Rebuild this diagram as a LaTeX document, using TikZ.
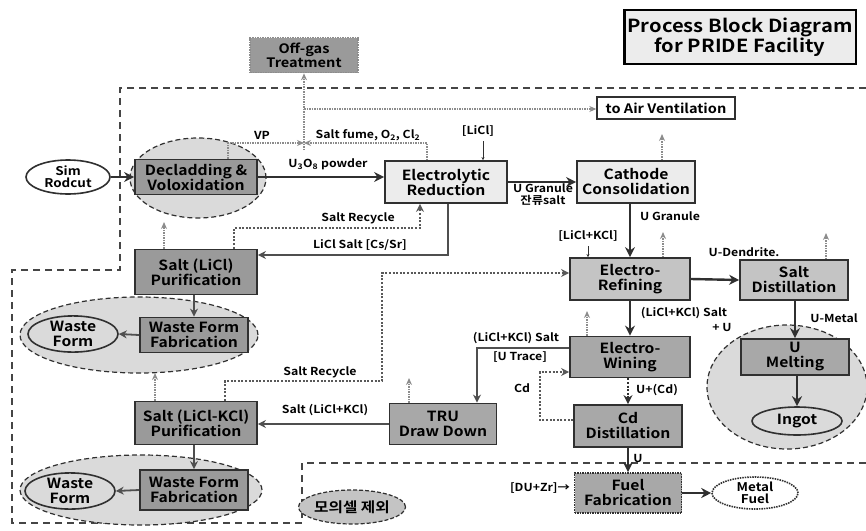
\documentclass[tikz,border=0pt]{standalone}
\usepackage{fontspec}
\setmainfont{Noto Sans CJK KR}[BoldFont={* Bold}, FakeStretch=1.12]
\usetikzlibrary{arrows.meta,shapes.geometric}
\definecolor{dk}{HTML}{9A9A9A}
\definecolor{dkb}{HTML}{A8A8A8}
\definecolor{md}{HTML}{C4C4C4}
\definecolor{lt}{HTML}{ECECEC}
\definecolor{el}{HTML}{DADADA}
\definecolor{ln}{HTML}{303030}
\definecolor{gy}{HTML}{8C8C8C}
\newcommand\bxf{\fontsize{14}{15}\selectfont\bfseries}
\newcommand\lbf{\fontsize{11}{12}\selectfont\bfseries}
\tikzset{
  blk/.style={draw=ln, line width=1.8pt, align=center, font=\bxf, inner sep=1pt},
  grp/.style={ellipse, draw=ln, line width=1.2pt, dash pattern=on 5pt off 3pt, fill=el, inner sep=0pt},
  oval/.style={ellipse, draw=ln, line width=1.6pt, fill=white, align=center, font=\fontsize{12}{12}\selectfont\bfseries, inner sep=0pt},
  lab/.style={font=\lbf, inner sep=1pt, align=center},
  bigarr/.style={draw=ln, line width=2.4pt, -{Stealth[length=10pt,width=10pt]}},
  medarr/.style={draw=ln!85, line width=1.8pt, -{Stealth[length=8pt,width=8pt]}},
  grayarr/.style={draw=gy, line width=1.6pt, dash pattern=on 1.5pt off 1pt, -{Stealth[length=7pt,width=6pt,sep=0pt]}},
  recarr/.style={draw=ln!80, line width=2pt, dash pattern=on 2pt off 1.6pt, -{Stealth[length=8pt,width=8pt,fill=gy]}},
  tinyarr/.style={draw=ln, line width=0.8pt, -{Stealth[length=3pt,width=3pt]}},
  bound/.style={draw=ln!90, line width=1.5pt, dash pattern=on 7pt off 5pt}
}
\begin{document}
\begin{tikzpicture}[x=1pt,y=-1pt]
\useasboundingbox (0,0) rectangle (866,530);
% boundary
\draw[bound] (866,88) -- (120,88) -- (120,270) -- (12,270) -- (12,523) -- (302,523) -- (302,463) -- (866,463);
% group ellipses
\node[grp, minimum width=136pt, minimum height=80pt] (g1) at (198,178) {};
\node[grp, minimum width=238pt, minimum height=76pt] (g2) at (139,335) {};
\node[grp, minimum width=160pt, minimum height=124pt] (g3) at (787,387) {};
\node[grp, minimum width=242pt, minimum height=70pt] (g4) at (141,490) {};
% title
\node[draw=black, line width=2.6pt, fill=lt, align=center, font=\fontsize{18}{20}\selectfont\bfseries, minimum width=213pt, minimum height=54pt] (title) at (740,37) {Process Block Diagram\\for PRIDE Facility};
% blocks
\node[blk, fill=dk, draw=gy, dash pattern=on 1.5pt off 1pt, line width=1.6pt, minimum width=108pt, minimum height=35pt, font=\fontsize{13}{14}\selectfont\bfseries] (offgas) at (304,55) {Off-gas\\Treatment};
\node[blk, fill=white, line width=1.4pt, minimum width=138pt, minimum height=22pt, font=\fontsize{13}{14}\selectfont\bfseries] (air) at (666,108) {to Air Ventilation};
\node[oval, minimum width=84pt, minimum height=34pt] (sim) at (68,177) {Sim\\Rodcut};
\node[blk, fill=dk, minimum width=122pt, minimum height=35pt] (decl) at (196,177) {Decladding \&\\Voloxidation};
\node[blk, fill=lt, minimum width=122pt, minimum height=42pt] (er) at (446,182) {Electrolytic\\Reduction};
\node[blk, fill=lt, minimum width=118pt, minimum height=42pt] (cc) at (636,182) {Cathode\\Consolidation};
\node[blk, fill=md, minimum width=120pt, minimum height=42pt] (erf) at (630,279) {Electro-\\Refining};
\node[blk, fill=md, minimum width=108pt, minimum height=40pt] (sd) at (794,280) {Salt\\Distillation};
\node[blk, fill=dkb, minimum width=108pt, minimum height=36pt] (um) at (795,357) {U\\Melting};
\node[oval, fill=el, minimum width=90pt, minimum height=28pt, font=\bxf] (ingot) at (797,421) {Ingot};
\node[blk, fill=dkb, minimum width=120pt, minimum height=41pt] (ew) at (630,357) {Electro-\\Wining};
\node[blk, fill=dkb, minimum width=107pt, minimum height=41pt] (tru) at (443,424) {TRU\\Draw Down};
\node[blk, fill=dkb, minimum width=108pt, minimum height=42pt] (cd) at (628,426) {Cd\\Distillation};
\node[blk, fill=dkb, dash pattern=on 1.5pt off 1pt, minimum width=107pt, minimum height=40pt] (ff) at (628,493) {Fuel\\Fabrication};
\node[oval, dash pattern=on 1.5pt off 1pt, minimum width=86pt, minimum height=32pt] (mf) at (755,493) {Metal\\Fuel};
\node[blk, fill=dk, minimum width=122pt, minimum height=45pt] (sp1) at (196,272) {Salt (LiCl)\\Purification};
\node[blk, fill=dk, minimum width=108pt, minimum height=35pt] (wf1) at (194,335) {Waste Form\\Fabrication};
\node[oval, fill=el, minimum width=90pt, minimum height=30pt, font=\bxf] (we1) at (73,334) {Waste\\Form};
\node[blk, fill=dk, minimum width=122pt, minimum height=43pt] (sp2) at (196,423) {Salt (LiCl-KCl)\\Purification};
\node[blk, fill=dk, minimum width=108pt, minimum height=40pt] (wf2) at (194,490) {Waste Form\\Fabrication};
\node[oval, fill=el, minimum width=90pt, minimum height=28pt, font=\bxf] (we2) at (70,491) {Waste\\Form};
\node[ellipse, draw=ln, line width=1.2pt, dash pattern=on 4pt off 2pt, fill=md, inner sep=0pt, minimum width=80pt, minimum height=34pt, font=\bxf] (ko) at (352,507) {모의셀 제외};
% coordinates
\coordinate (jn) at (304,150);
\coordinate (ja) at (304,109);
\coordinate (vp) at (228,143);
\coordinate (sf) at (427,143);
\coordinate (lc) at (483,141);
\coordinate (lk) at (588,246);
\coordinate (l1) at (448,255);
\coordinate (s1) at (234,228);
\coordinate (s2) at (420,228);
\coordinate (s3) at (225,381);
\coordinate (s4) at (382,381);
\coordinate (s5) at (382,273);
\coordinate (t1) at (477,348);
\coordinate (c1) at (540,420);
\coordinate (c2) at (540,372);
\coordinate (u1) at (662,134);
\coordinate (u2) at (663,232);
\coordinate (u3) at (826,233);
\coordinate (u4) at (587,311);
\coordinate (u5) at (409,378);
\coordinate (u6) at (164,222);
\coordinate (u7) at (155,373);
% off-gas lines
\draw[grayarr] (jn) -- (offgas.south);
\draw[grayarr] (ja) -- (air.west |- ja);
\draw[grayarr] (decl.north -| vp) -- (vp) -- (jn |- vp);
\draw[grayarr] (er.north -| sf) -- (sf) -- (jn |- sf);
\node[lab] (lvp) at (262,135) {VP};
\node[lab] (lsf) at (368,135) {Salt fume, O\textsubscript{2}, Cl\textsubscript{2}};
% main flow
\draw[bigarr] (sim.east) -- (decl.west);
\draw[bigarr] (decl.east) -- (decl.east -| er.west);
\node[lab] (lu3) at (328,164) {U\textsubscript{3}O\textsubscript{8} powder};
\draw[bigarr] (er.east) -- (cc.west);
\node[lab] (lug) at (543,195) {U Granule\\잔류salt};
\node[lab] (llicl) at (478,131) {[LiCl]};
\draw[tinyarr] (lc) -- (er.north -| lc);
\draw[bigarr] (cc.south -| erf.north) -- (erf.north);
\node[lab] (lug2) at (670,216) {U Granule};
\node[lab] (llk) at (588,236) {[LiCl+KCl]};
\draw[tinyarr] (lk) -- (erf.north -| lk);
\draw[bigarr] (erf.east) -- (sd.west);
\node[lab] (lud) at (744,252) {U-Dendrite.};
\draw[bigarr] (sd.south -| um.north) -- (um.north);
\node[lab] (lum) at (834,318) {U-Metal};
\draw[bigarr] (um.south -| ingot.north) -- (ingot.north);
\draw[bigarr] (erf.south) -- (ew.north);
\node[lab] (lls) at (684,313) {(LiCl+KCl) Salt};
\node[lab] (llu) at (722,327) {+ U};
\draw[medarr] (ew.west |- t1) -- (t1) -- (tru.north -| t1);
\node[lab] (lls2) at (516,338) {(LiCl+KCl) Salt};
\node[lab] (lut) at (520,357) {[U Trace]};
\draw[ln, line width=2pt, dash pattern=on 2pt off 1.6pt, -{Stealth[length=9pt,width=9pt]}] (ew.south -| cd.north) -- (cd.north);
\node[lab] (lucd) at (657,390) {U+(Cd)};
\draw[recarr] (cd.west |- c1) -- (c1) -- (c2) -- (ew.west |- c2);
\node[lab] (lcd) at (522,388) {Cd};
\draw[bigarr] (cd.south) -- (ff.north);
\node[lab] (lu) at (638,458) {U};
\node[lab] (ldu) at (540,488) {[DU+Zr]\textrightarrow};
\draw[bigarr] (ff.east) -- (mf.west);
\draw[medarr] (tru.west) -- (sp2.east |- tru.west);
\node[lab] (lsl) at (325,410) {Salt (LiCl+KCl)};
\draw[medarr] (sp2.south -| wf2.north) -- (wf2.north);
\draw[medarr] (wf2.west) -- (we2.east);
\draw[medarr] (sp1.south -| wf1.north) -- (wf1.north);
\draw[medarr] (wf1.west) -- (we1.east);
\draw[medarr] (er.south -| l1) -- (l1) -- (sp1.east |- l1);
\node[lab] (lcs) at (360,245) {LiCl Salt [Cs/Sr]};
\draw[recarr] (sp1.north -| s1) -- (s1) -- (s2) -- (er.south -| s2);
\node[lab] (lsr1) at (358,218) {Salt Recycle};
\draw[recarr] (sp2.north -| s3) -- (s3) -- (s4) -- (s5) -- (erf.west |- s5);
\node[lab] (lsr2) at (320,372) {Salt Recycle};
% vent arrows
\draw[grayarr] (cc.north -| u1) -- (u1);
\draw[grayarr] (erf.north -| u2) -- (u2);
\draw[grayarr] (sd.north -| u3) -- (u3);
\draw[grayarr] (ew.north -| u4) -- (u4);
\draw[grayarr] (tru.north -| u5) -- (u5);
\draw[grayarr] (sp1.north -| u6) -- (u6);
\draw[grayarr] (sp2.north -| u7) -- (u7);
\end{tikzpicture}
\end{document}
